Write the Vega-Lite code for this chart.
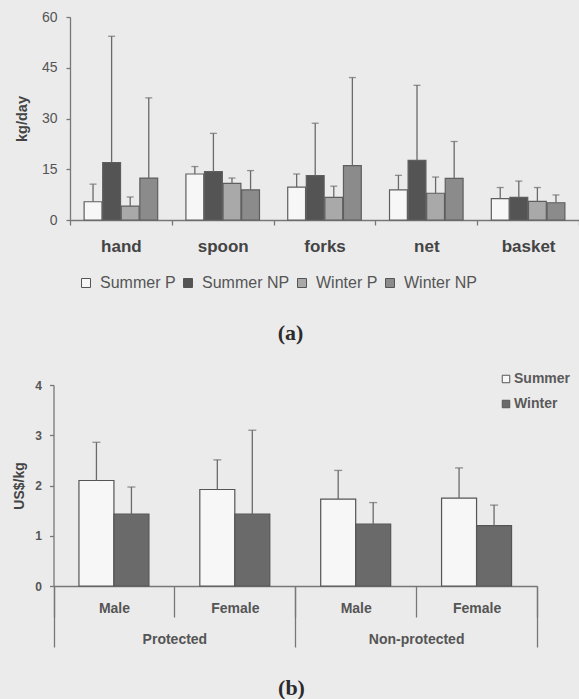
{
  "$schema": "https://vega.github.io/schema/vega-lite/v6.json",
  "background": "#ebebeb",
  "padding": {"left": 12, "top": 10, "right": 0, "bottom": 0},
  "spacing": 28,
  "resolve": {"scale": {"fill": "independent", "xOffset": "independent"}, "legend": {"fill": "independent"}},
  "config": {
    "view": {"stroke": null},
    "font": "Liberation Sans",
    "axis": {"grid": false, "domainColor": "#777777", "tickColor": "#777777", "domainWidth": 1.3, "tickWidth": 1.3, "labelFont": "Liberation Sans", "titleFont": "Liberation Sans"},
    "legend": {"labelFont": "Liberation Sans"}
  },
  "datasets": {
    "a": [
      {"tool": "hand", "group": "Summer P", "mean": 5.4, "upper": 10.6},
      {"tool": "hand", "group": "Summer NP", "mean": 17.0, "upper": 54.3},
      {"tool": "hand", "group": "Winter P", "mean": 4.1, "upper": 6.8},
      {"tool": "hand", "group": "Winter NP", "mean": 12.4, "upper": 36.1},
      {"tool": "spoon", "group": "Summer P", "mean": 13.6, "upper": 15.8},
      {"tool": "spoon", "group": "Summer NP", "mean": 14.3, "upper": 25.6},
      {"tool": "spoon", "group": "Winter P", "mean": 10.8, "upper": 12.4},
      {"tool": "spoon", "group": "Winter NP", "mean": 8.9, "upper": 14.6},
      {"tool": "forks", "group": "Summer P", "mean": 9.7, "upper": 13.6},
      {"tool": "forks", "group": "Summer NP", "mean": 13.1, "upper": 28.6},
      {"tool": "forks", "group": "Winter P", "mean": 6.7, "upper": 10.0},
      {"tool": "forks", "group": "Winter NP", "mean": 16.1, "upper": 42.1},
      {"tool": "net", "group": "Summer P", "mean": 8.9, "upper": 13.2},
      {"tool": "net", "group": "Summer NP", "mean": 17.6, "upper": 39.8},
      {"tool": "net", "group": "Winter P", "mean": 7.9, "upper": 12.7},
      {"tool": "net", "group": "Winter NP", "mean": 12.3, "upper": 23.2},
      {"tool": "basket", "group": "Summer P", "mean": 6.3, "upper": 9.6},
      {"tool": "basket", "group": "Summer NP", "mean": 6.7, "upper": 11.5},
      {"tool": "basket", "group": "Winter P", "mean": 5.5, "upper": 9.6},
      {"tool": "basket", "group": "Winter NP", "mean": 5.1, "upper": 7.4}
    ],
    "b": [
      {"cat": "P-Male", "season": "Summer", "mean": 2.10, "upper": 2.86},
      {"cat": "P-Male", "season": "Winter", "mean": 1.43, "upper": 1.97},
      {"cat": "P-Female", "season": "Summer", "mean": 1.92, "upper": 2.51},
      {"cat": "P-Female", "season": "Winter", "mean": 1.43, "upper": 3.10},
      {"cat": "NP-Male", "season": "Summer", "mean": 1.73, "upper": 2.30},
      {"cat": "NP-Male", "season": "Winter", "mean": 1.23, "upper": 1.66},
      {"cat": "NP-Female", "season": "Summer", "mean": 1.75, "upper": 2.35},
      {"cat": "NP-Female", "season": "Winter", "mean": 1.20, "upper": 1.61}
    ],
    "status": [
      {"status": "Protected"},
      {"status": "Non-protected"}
    ]
  },
  "vconcat": [
    {
      "width": 509,
      "height": 203,
      "data": {"name": "a"},
      "title": {"text": "(a)", "orient": "bottom", "anchor": "middle", "dx": -34, "offset": 32, "font": "Liberation Serif", "fontSize": 22, "fontWeight": "bold", "color": "#2b2b2b"},
      "encoding": {
        "x": {"field": "tool", "type": "nominal", "sort": ["hand", "spoon", "forks", "net", "basket"], "scale": {"paddingInner": 0, "paddingOuter": 0},
          "axis": {"title": null, "labelAngle": 0, "labelFontSize": 17, "labelFontWeight": "bold", "labelColor": "#444444", "labelBaseline": "middle", "labelPadding": 21, "tickBand": "extent", "tickSize": 5}},
        "xOffset": {"field": "group", "type": "nominal", "scale": {"domain": ["Summer P", "Summer NP", "Winter P", "Winter NP"], "paddingInner": 0.04, "paddingOuter": 0.76}}
      },
      "layer": [
        {
          "mark": {"type": "bar", "stroke": "#5e5e5e", "strokeWidth": 1.2},
          "encoding": {
            "y": {"field": "mean", "type": "quantitative", "title": "kg/day", "scale": {"domain": [0, 60]},
              "axis": {"values": [0, 15, 30, 45, 60], "tickSize": 4, "labelFontSize": 14, "labelColor": "#555555", "labelPadding": 9, "titleFontSize": 14.5, "titleFontWeight": "bold", "titleColor": "#444444", "titleX": -48, "titleAngle": 270, "titleAlign": "center", "titleBaseline": "middle"}},
            "fill": {"field": "group", "type": "nominal",
              "scale": {"domain": ["Summer P", "Summer NP", "Winter P", "Winter NP"], "range": ["#f7f7f7", "#545454", "#a9a9a9", "#8b8b8b"]},
              "legend": {"title": null, "orient": "none", "legendX": 8, "legendY": 258, "direction": "horizontal", "symbolType": "square", "symbolSize": 81, "symbolStrokeColor": "#555555", "symbolStrokeWidth": 1, "labelFontSize": 16, "labelFontWeight": "normal", "labelColor": "#555555", "labelOffset": 6, "columnPadding": 4}}
          }
        },
        {
          "mark": {"type": "rule", "color": "#6a6a6a", "strokeWidth": 1.3},
          "encoding": {"y": {"field": "mean", "type": "quantitative", "title": "kg/day"}, "y2": {"field": "upper"}}
        },
        {
          "mark": {"type": "tick", "color": "#6a6a6a", "thickness": 1.3, "size": 7},
          "encoding": {"y": {"field": "upper", "type": "quantitative", "title": "kg/day"}}
        }
      ]
    },
    {
      "width": 467,
      "height": 201,
      "title": {"text": "(b)", "orient": "bottom", "anchor": "middle", "dx": -12, "offset": 30, "font": "Liberation Serif", "fontSize": 22, "fontWeight": "bold", "color": "#2b2b2b"},
      "resolve": {"scale": {"x": "independent"}, "axis": {"x": "independent"}},
      "layer": [
        {
          "data": {"name": "b"},
          "encoding": {
            "x": {"field": "cat", "type": "nominal", "sort": ["P-Male", "P-Female", "NP-Male", "NP-Female"], "scale": {"paddingInner": 0, "paddingOuter": 0, "range": [-16.5, 467]},
              "axis": {"title": null, "orient": "bottom", "labelAngle": 0, "labelExpr": "split(datum.label, '-')[1]", "labelFontSize": 14, "labelFontWeight": "bold", "labelColor": "#555555", "labelBaseline": "middle", "labelPadding": -9, "tickBand": "extent", "tickSize": 31}},
            "xOffset": {"field": "season", "type": "nominal", "scale": {"domain": ["Summer", "Winter"], "paddingInner": 0, "paddingOuter": 0.727}}
          },
          "layer": [
            {
              "mark": {"type": "bar", "stroke": "#555555", "strokeWidth": 1.2},
              "encoding": {
                "y": {"field": "mean", "type": "quantitative", "title": "US$/kg", "scale": {"domain": [0, 4]},
                  "axis": {"values": [0, 1, 2, 3, 4], "format": "d", "offset": 16.5, "tickSize": 4, "labelFontSize": 12, "labelFontWeight": "bold", "labelColor": "#555555", "labelPadding": 8, "titleFontSize": 14, "titleFontWeight": "bold", "titleColor": "#444444", "titleX": -34.5, "titleAngle": 270, "titleAlign": "center", "titleBaseline": "middle"}},
                "fill": {"field": "season", "type": "nominal",
                  "scale": {"domain": ["Summer", "Winter"], "range": ["#f7f7f7", "#6a6a6a"]},
                  "legend": {"title": null, "orient": "none", "legendX": 429, "legendY": -13, "direction": "vertical", "symbolType": "square", "symbolSize": 56, "symbolStrokeColor": "#555555", "symbolStrokeWidth": 1, "labelFontSize": 14, "labelFontWeight": "bold", "labelColor": "#5a5a5a", "labelOffset": 1, "rowPadding": 11}}
              }
            },
            {
              "mark": {"type": "rule", "color": "#6a6a6a", "strokeWidth": 1.3},
              "encoding": {"y": {"field": "mean", "type": "quantitative", "title": "US$/kg"}, "y2": {"field": "upper"}}
            },
            {
              "mark": {"type": "tick", "color": "#6a6a6a", "thickness": 1.3, "size": 8},
              "encoding": {"y": {"field": "upper", "type": "quantitative", "title": "US$/kg"}}
            }
          ]
        },
        {
          "data": {"name": "status"},
          "mark": {"type": "point", "opacity": 0},
          "encoding": {
            "x": {"field": "status", "type": "nominal", "sort": ["Protected", "Non-protected"], "scale": {"paddingInner": 0, "paddingOuter": 0, "range": [-16.5, 467]},
              "axis": {"title": null, "orient": "bottom", "domain": false, "labelAngle": 0, "labelFontSize": 14, "labelFontWeight": "bold", "labelColor": "#555555", "labelBaseline": "middle", "labelPadding": -8, "tickBand": "extent", "tickSize": 61}},
            "y": {"datum": 0, "type": "quantitative", "title": "US$/kg"}
          }
        }
      ]
    }
  ]
}
